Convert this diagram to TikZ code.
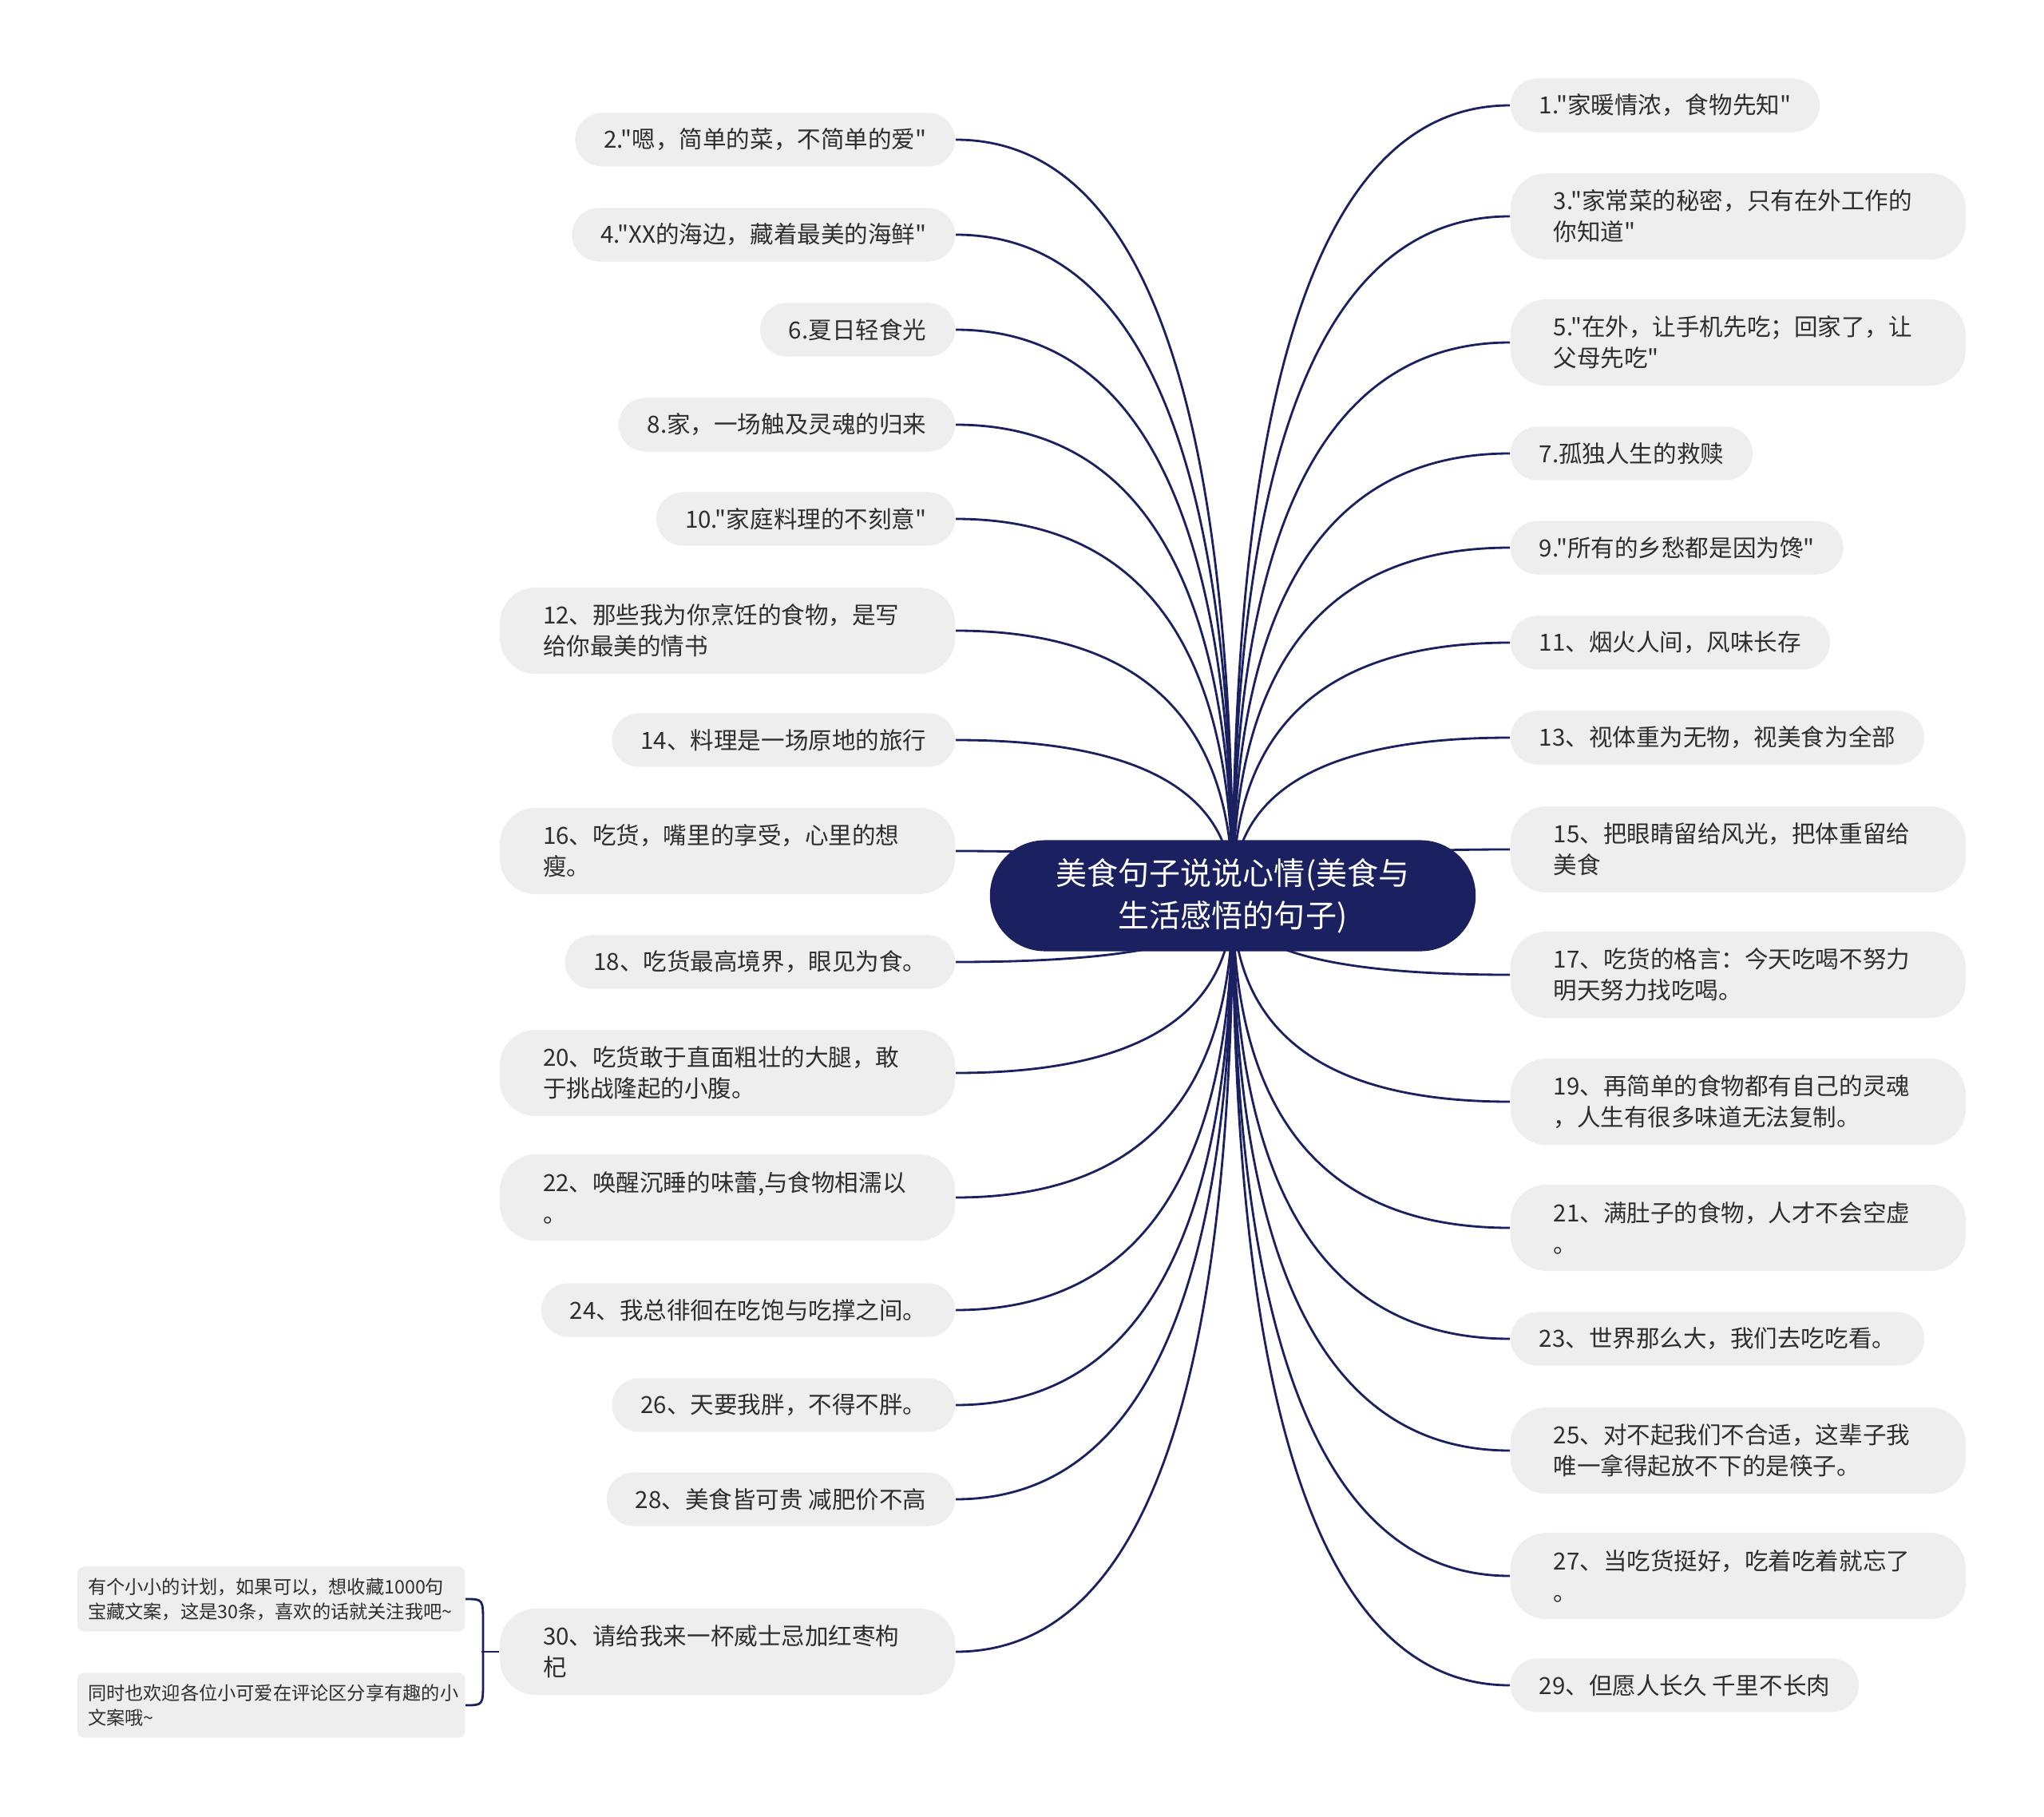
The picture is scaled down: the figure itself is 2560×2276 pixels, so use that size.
\documentclass[tikz,border=0pt]{standalone}
\usepackage{fontspec}
\setmainfont{Noto Sans CJK SC}[Ligatures=TeXOff]
\usetikzlibrary{calc,backgrounds}
\pgfdeclarelayer{paper}
\pgfdeclarelayer{edges}
\pgfsetlayers{paper,edges,main}
\definecolor{navy}{HTML}{1B2060}
\definecolor{boxgray}{HTML}{EEEEEE}
\definecolor{txt}{HTML}{2E2E2E}
\tikzset{
  leaf/.style={fill=boxgray, text=txt, rounded corners=0.335cm, minimum height=0.67cm,
    inner xsep=0.36cm, inner ysep=0pt, font=\fontsize{8.4pt}{11.1pt}\selectfont},
  leaftwo/.style={fill=boxgray, text=txt, rounded corners=0.45cm, minimum height=1.08cm,
    text width=4.62cm, align=left, inner xsep=0.54cm, inner ysep=0pt,
    font=\fontsize{8.4pt}{11.1pt}\selectfont},
  note/.style={fill=boxgray, text=txt, rounded corners=0.08cm, minimum height=0.81cm,
    text width=4.59cm, align=left, inner xsep=0.13cm, inner ysep=0pt,
    font=\fontsize{6.6pt}{8.8pt}\selectfont},
  root/.style={fill=navy, text=white, rounded corners=0.69cm, minimum width=6.08cm,
    minimum height=1.39cm, align=center, inner sep=0pt,
    font=\fontsize{11.1pt}{15.1pt}\selectfont},
  link/.style={draw=navy, line width=0.8pt},
}
\newcommand\mmlink[1]{%
  \path (root.center |- #1) coordinate (mmtmp);
  \draw[link] (root.center) .. controls ($(root.center)!0.6667!(mmtmp)$) and ($(#1)!0.6667!(mmtmp)$) .. (#1);
}
\begin{document}
\begin{tikzpicture}[x=0.01cm, y=-0.01cm]
\begin{pgfonlayer}{paper}
\fill[white] (0,0) rectangle (2560,2276);
\end{pgfonlayer}
\useasboundingbox (0,0) rectangle (2560,2276);

\node[root] (root) at (1544,1122) {美食句子说说心情(美食与\\生活感悟的句子)};

% right side
\node[leaf, anchor=west] (r1) at (1891,132) {1."家暖情浓，食物先知"};
\node[leaftwo, anchor=west] (r3) at (1891,271) {3."家常菜的秘密，只有在外工作的\\你知道"};
\node[leaftwo, anchor=west] (r5) at (1891,429) {5."在外，让手机先吃；回家了，让\\父母先吃"};
\node[leaf, anchor=west] (r7) at (1891,568) {7.孤独人生的救赎};
\node[leaf, anchor=west] (r9) at (1891,686) {9."所有的乡愁都是因为馋"};
\node[leaf, anchor=west] (r11) at (1891,805) {11、烟火人间，风味长存};
\node[leaf, anchor=west] (r13) at (1891,924) {13、视体重为无物，视美食为全部};
\node[leaftwo, anchor=west] (r15) at (1891,1064) {15、把眼睛留给风光，把体重留给\\美食};
\node[leaftwo, anchor=west] (r17) at (1891,1221) {17、吃货的格言：今天吃喝不努力\\明天努力找吃喝。};
\node[leaftwo, anchor=west] (r19) at (1891,1380) {19、再简单的食物都有自己的灵魂\\，人生有很多味道无法复制。};
\node[leaftwo, anchor=west] (r21) at (1891,1538) {21、满肚子的食物，人才不会空虚\\。};
\node[leaf, anchor=west] (r23) at (1891,1677) {23、世界那么大，我们去吃吃看。};
\node[leaftwo, anchor=west] (r25) at (1891,1817) {25、对不起我们不合适，这辈子我\\唯一拿得起放不下的是筷子。};
\node[leaftwo, anchor=west] (r27) at (1891,1974) {27、当吃货挺好，吃着吃着就忘了\\。};
\node[leaf, anchor=west] (r29) at (1891,2111) {29、但愿人长久 千里不长肉};

% left side
\node[leaf, anchor=east] (l2) at (1197,175) {2."嗯，简单的菜，不简单的爱"};
\node[leaf, anchor=east] (l4) at (1197,294) {4."XX的海边，藏着最美的海鲜"};
\node[leaf, anchor=east] (l6) at (1197,413) {6.夏日轻食光};
\node[leaf, anchor=east] (l8) at (1197,532) {8.家，一场触及灵魂的归来};
\node[leaf, anchor=east] (l10) at (1197,650) {10."家庭料理的不刻意"};
\node[leaftwo, anchor=east] (l12) at (1197,790) {12、那些我为你烹饪的食物，是写\\给你最美的情书};
\node[leaf, anchor=east] (l14) at (1197,927) {14、料理是一场原地的旅行};
\node[leaftwo, anchor=east] (l16) at (1197,1066) {16、吃货，嘴里的享受，心里的想\\瘦。};
\node[leaf, anchor=east] (l18) at (1197,1205) {18、吃货最高境界，眼见为食。};
\node[leaftwo, anchor=east] (l20) at (1197,1344) {20、吃货敢于直面粗壮的大腿，敢\\于挑战隆起的小腹。};
\node[leaftwo, anchor=east] (l22) at (1197,1500) {22、唤醒沉睡的味蕾,与食物相濡以\\。};
\node[leaf, anchor=east] (l24) at (1197,1641) {24、我总徘徊在吃饱与吃撑之间。};
\node[leaf, anchor=east] (l26) at (1197,1760) {26、天要我胖，不得不胖。};
\node[leaf, anchor=east] (l28) at (1197,1878) {28、美食皆可贵 减肥价不高};
\node[leaftwo, anchor=east] (l30) at (1197,2069) {30、请给我来一杯威士忌加红枣枸\\杞};

% notes
\node[note, anchor=east] (nt1) at (583,2003) {有个小小的计划，如果可以，想收藏1000句\\宝藏文案，这是30条，喜欢的话就关注我吧\textasciitilde};
\node[note, anchor=east] (nt2) at (583,2136) {同时也欢迎各位小可爱在评论区分享有趣的小\\文案哦\textasciitilde};

\begin{pgfonlayer}{edges}
\foreach \n in {r1,r3,r5,r7,r9,r11,r13,r15,r17,r19,r21,r23,r25,r27,r29}{\mmlink{\n.west}}
\foreach \n in {l2,l4,l6,l8,l10,l12,l14,l16,l18,l20,l22,l24,l26,l28,l30}{\mmlink{\n.east}}
\coordinate (bk) at ($(l30.west)+(-22,0)$);
\draw[link] (l30.west) -- (bk);
\draw[link] (nt1.east) .. controls ($(nt1.east)+(22,0)$) .. ($(nt1.east)+(22,30)$)
  -- ($(nt2.east)+(22,-30)$) .. controls ($(nt2.east)+(22,0)$) .. (nt2.east);
\end{pgfonlayer}
\end{tikzpicture}
\end{document}
